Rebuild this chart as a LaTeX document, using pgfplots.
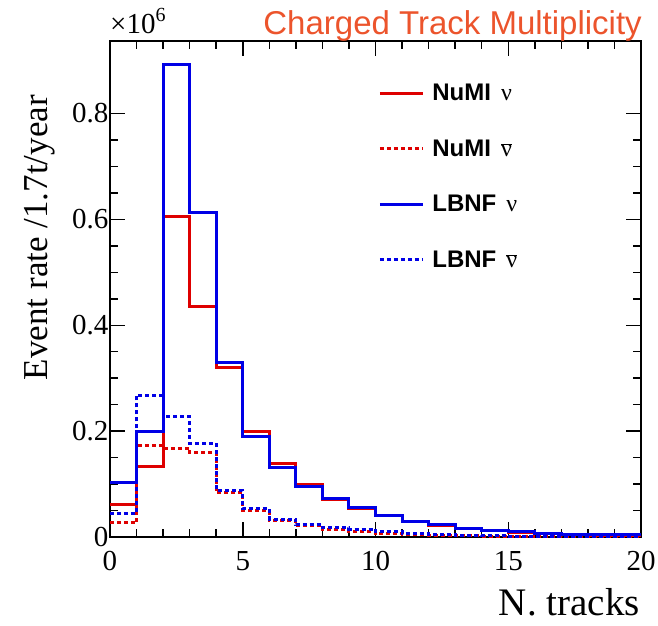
\documentclass[border=0pt]{standalone}
\usepackage{pgfplots}
\pgfplotsset{compat=1.18}
\usepackage{fontspec}
\setmainfont{Liberation Serif}
\newfontfamily\arial{Liberation Sans}
\definecolor{hred}{RGB}{222,0,0}
\definecolor{hblue}{RGB}{0,0,230}
\definecolor{ttl}{RGB}{236,84,44}
\newcommand{\nub}{\ensuremath{\overline{\hbox{\rmfamily\mdseries ν}}}}
\begin{document}
\begin{tikzpicture}
\path[use as bounding box] (-110pt,-88pt) rectangle (548pt,537pt);
\begin{axis}[
  at={(0pt,0pt)}, anchor=south west,
  scale only axis, width=531pt, height=496pt,
  xmin=0, xmax=20, ymin=0, ymax=0.937,
  xtick={0,5,10,15,20}, minor x tick num=4,
  ytick={0,0.2,0.4,0.6,0.8}, minor y tick num=3,
  tick align=inside, major tick length=15pt, minor tick length=8pt,
  every tick/.style={black, line width=1.5pt},
  axis line style={line width=2pt},
  scaled y ticks=false,
  /pgf/number format/assume math mode=true,
  ticklabel style={font=\fontsize{29}{29}\selectfont},
  xticklabel style={yshift=-11pt},
  yticklabel style={xshift=2pt},
  xlabel={N. tracks},
  ylabel={Event rate /1.7t/year},
  xlabel style={at={(axis description cs:0.998,-0.159)}, anchor=base east, font=\fontsize{39}{39}\selectfont, inner sep=0pt},
  ylabel style={at={(axis description cs:-0.1168,0.891)}, anchor=base east, rotate=0, font=\fontsize{35}{35}\selectfont, inner sep=0pt},
  legend style={draw=none, fill=none, at={(axis description cs:0.505,0.915)}, anchor=north west,
    font=\arial\bfseries\fontsize{24}{24}\selectfont, row sep=35.5pt, inner sep=0pt,
    nodes={inner sep=1pt}, /tikz/every odd column/.append style={column sep=7pt}},
  legend cell align=left,
  legend image code/.code={\draw[#1] (0pt,0pt) -- (43pt,0pt);},
]
\addplot[const plot mark left, hred, line width=3pt] coordinates {
(0,0.062) (1,0.134) (2,0.605) (3,0.436) (4,0.320) (5,0.200) (6,0.139) (7,0.100) (8,0.071) (9,0.053)
(10,0.040) (11,0.029) (12,0.022) (13,0.016) (14,0.012) (15,0.009) (16,0.0065) (17,0.0048) (18,0.0036) (19,0.003) (20,0.003)};
\addlegendentry{NuMI\hspace{10pt}{\rmfamily\mdseries ν}}
\addplot[const plot mark left, hred, line width=3pt, dash pattern=on 4pt off 3pt] coordinates {
(0,0.0265) (1,0.172) (2,0.168) (3,0.159) (4,0.084) (5,0.050) (6,0.031) (7,0.021) (8,0.014) (9,0.0095)
(10,0.0065) (11,0.0045) (12,0.0032) (13,0.0023) (14,0.0017) (15,0.0012) (16,0.0009) (17,0.0007) (18,0.0005) (19,0.0004) (20,0.0004)};
\addlegendentry{NuMI\hspace{10pt}\nub}
\addplot[const plot mark left, hblue, line width=3pt] coordinates {
(0,0.1035) (1,0.199) (2,0.892) (3,0.613) (4,0.329) (5,0.189) (6,0.131) (7,0.096) (8,0.0726) (9,0.0549)
(10,0.041) (11,0.030) (12,0.023) (13,0.017) (14,0.0126) (15,0.0095) (16,0.007) (17,0.0055) (18,0.0045) (19,0.004) (20,0.004)};
\addlegendentry{LBNF\hspace{10pt}{\rmfamily\mdseries ν}}
\addplot[const plot mark left, hblue, line width=3pt, dash pattern=on 4pt off 3pt] coordinates {
(0,0.044) (1,0.268) (2,0.228) (3,0.177) (4,0.088) (5,0.053) (6,0.034) (7,0.023) (8,0.0177) (9,0.015)
(10,0.0095) (11,0.0063) (12,0.0044) (13,0.003) (14,0.0022) (15,0.0016) (16,0.0012) (17,0.0009) (18,0.0007) (19,0.0005) (20,0.0005)};
\addlegendentry{LBNF\hspace{10pt}\nub}
\end{axis}
\node[anchor=base east, inner sep=0pt, font=\arial\fontsize{33}{33}\selectfont, text=ttl] at (532pt,502pt) {Charged Track Multiplicity};
\node[anchor=base west, inner sep=0pt, font=\fontsize{29}{29}\selectfont] at (0pt,503pt) {×10\raisebox{0.42em}{\fontsize{20}{20}\selectfont 6}};
\end{tikzpicture}
\end{document}
